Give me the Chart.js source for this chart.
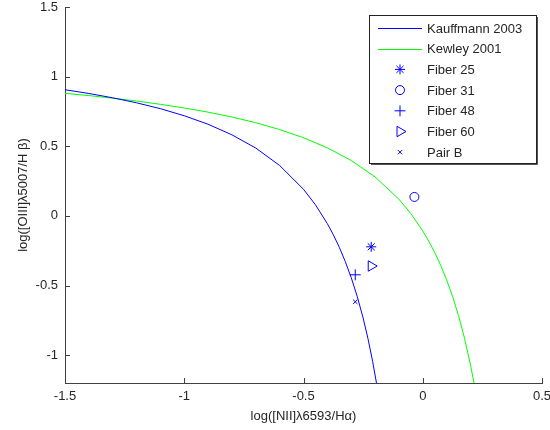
<!DOCTYPE html>
<html>
<head>
<meta charset="utf-8">
<script src="https://cdn.jsdelivr.net/npm/chart.js@4"></script>
<style>
  body { margin: 0; background: #fff; }
  #wrap { width: 550px; height: 430px; }
</style>
</head>
<body>
<div id="wrap"><canvas id="bpt_chart" width="550" height="430"></canvas></div>
<script>
"use strict";
// demarcation curves
var kauffX = [-1.5, -1.4, -1.3, -1.2, -1.1, -1.0, -0.9, -0.8, -0.7, -0.6, -0.5, -0.45, -0.4, -0.375, -0.35, -0.325, -0.3, -0.275, -0.25, -0.23, -0.21, -0.194];
var kauffY = [0.906, 0.879, 0.848, 0.812, 0.770, 0.719, 0.658, 0.582, 0.487, 0.362, 0.191, 0.080, -0.056, -0.135, -0.225, -0.327, -0.443, -0.577, -0.733, -0.879, -1.046, -1.2];
var kewX = [-1.5, -1.4, -1.3, -1.2, -1.1, -1.0, -0.9, -0.8, -0.7, -0.6, -0.5, -0.4, -0.3, -0.2, -0.1, -0.05, 0, 0.025, 0.05, 0.075, 0.1, 0.125, 0.15, 0.175, 0.2, 0.215];
var kewY = [0.880, 0.864, 0.845, 0.825, 0.801, 0.775, 0.745, 0.710, 0.669, 0.620, 0.561, 0.489, 0.398, 0.280, 0.120, 0.017, -0.108, -0.181, -0.262, -0.354, -0.459, -0.578, -0.716, -0.878, -1.069, -1.2];

// measured points
var pointNames = ["Fiber 25", "Fiber 31", "Fiber 48", "Fiber 60", "Pair B"];
var pointX = [-0.216, -0.035, -0.283, -0.216, -0.283];
var pointY = [-0.222, 0.136, -0.423, -0.360, -0.617];

var xTicks = [-1.5, -1, -0.5, 0, 0.5];
var yTicks = [-1, -0.5, 0, 0.5, 1, 1.5];

function pairs(xs, ys) {
  return xs.map(function (x, i) {
    return { x: x, y: ys[i] };
  });
}

var BLUE = "#0000ff";
var GREEN = "#00ff00";
var AXIS = "#404040";
var TEXT = "#262626";
var FONT = "Liberation Sans, Arial, sans-serif";

var markerStyles = [
  { pointStyle: "star", radius: 5, rotation: 0 },
  { pointStyle: "circle", radius: 4.5, rotation: 0 },
  { pointStyle: "cross", radius: 5.5, rotation: 0 },
  { pointStyle: "triangle", radius: 6, rotation: 90 },
  { pointStyle: "crossRot", radius: 3, rotation: 0 },
];

var datasets = [
  {
    label: "Kauffmann 2003",
    data: pairs(kauffX, kauffY),
    showLine: true,
    borderColor: BLUE,
    borderWidth: 1,
    pointRadius: 0,
    tension: 0,
  },
  {
    label: "Kewley 2001",
    data: pairs(kewX, kewY),
    showLine: true,
    borderColor: GREEN,
    borderWidth: 1,
    pointRadius: 0,
    tension: 0,
  },
];
pointNames.forEach(function (name, i) {
  datasets.push({
    label: name,
    data: [{ x: pointX[i], y: pointY[i] }],
    showLine: false,
    borderColor: BLUE,
    backgroundColor: "rgba(0,0,0,0)",
    borderWidth: 1,
    pointStyle: markerStyles[i].pointStyle,
    pointRadius: markerStyles[i].radius,
    pointRotation: markerStyles[i].rotation,
    pointHoverRadius: markerStyles[i].radius,
  });
});

// inward tick marks like matlab
var tickPlugin = {
  id: "inTicks",
  afterDraw: function (chart) {
    var ctx = chart.ctx;
    var area = chart.chartArea;
    var xs = chart.scales.x;
    var ys = chart.scales.y;
    ctx.save();
    ctx.strokeStyle = AXIS;
    ctx.lineWidth = 1;
    ctx.beginPath();
    xTicks.forEach(function (v) {
      var px = Math.round(xs.getPixelForValue(v)) + 0.5;
      ctx.moveTo(px, area.bottom);
      ctx.lineTo(px, area.bottom - 5);
    });
    yTicks.forEach(function (v) {
      var py = Math.round(ys.getPixelForValue(v)) + 0.5;
      ctx.moveTo(area.left, py);
      ctx.lineTo(area.left + 5, py);
    });
    ctx.stroke();
    ctx.restore();
  },
};

// boxed legend in the upper right
var legendPlugin = {
  id: "boxLegend",
  afterDraw: function (chart) {
    var ctx = chart.ctx;
    var left = 369, top = 15, w = 167, h = 148;
    ctx.save();
    ctx.fillStyle = "#fff";
    ctx.fillRect(left, top, w, h);
    ctx.strokeStyle = "#222";
    ctx.lineWidth = 1;
    ctx.strokeRect(left + 0.5, top + 0.5, w, h);
    ctx.strokeStyle = "#555";
    ctx.beginPath();
    ctx.moveTo(left + w + 1.5, top + 2);
    ctx.lineTo(left + w + 1.5, top + h + 1.5);
    ctx.lineTo(left + 2, top + h + 1.5);
    ctx.stroke();

    ctx.font = "13px " + FONT;
    ctx.textBaseline = "middle";
    ctx.textAlign = "left";
    chart.data.datasets.forEach(function (ds, i) {
      var y = 28 + i * 20.7;
      if (ds.showLine) {
        ctx.strokeStyle = ds.borderColor;
        ctx.lineWidth = 1;
        ctx.beginPath();
        ctx.moveTo(378, Math.round(y) + 0.5);
        ctx.lineTo(422, Math.round(y) + 0.5);
        ctx.stroke();
      } else {
        ctx.strokeStyle = ds.borderColor;
        ctx.fillStyle = "rgba(0,0,0,0)";
        Chart.helpers.drawPoint(ctx, {
          pointStyle: ds.pointStyle,
          radius: ds.pointRadius,
          rotation: ds.pointRotation,
          borderWidth: 1,
        }, 400, y);
      }
      ctx.fillStyle = TEXT;
      ctx.fillText(ds.label, 427, y + 1);
    });
    ctx.restore();
  },
};

new Chart("bpt_chart", {
  type: "scatter",
  data: { datasets: datasets },
  options: {
    responsive: false,
    animation: false,
    layout: { padding: { left: 0, right: 0, top: 0, bottom: 0 } },
    plugins: {
      legend: { display: false },
      tooltip: { enabled: false },
    },
    scales: {
      x: {
        type: "linear",
        min: -1.5,
        max: 0.5,
        grid: { display: false, drawTicks: false, tickLength: 0 },
        border: { display: true, color: AXIS, width: 1 },
        afterBuildTicks: function (scale) {
          scale.ticks = xTicks.map(function (v) { return { value: v }; });
        },
        afterFit: function (scale) {
          scale.height = 47;
          scale.paddingLeft = 0;
          scale.paddingRight = 8;
        },
        ticks: {
          color: TEXT,
          font: { family: FONT, size: 13 },
          padding: 6,
          maxRotation: 0,
          callback: function (v) { return String(v); },
        },
        title: {
          display: true,
          text: "log([NII]λ6593/Hα)",
          color: TEXT,
          font: { family: FONT, size: 13 },
          padding: { top: 0, bottom: 6 },
        },
      },
      y: {
        type: "linear",
        min: -1.2,
        max: 1.5,
        grid: { display: false, drawTicks: false, tickLength: 0 },
        border: { display: true, color: AXIS, width: 1 },
        afterBuildTicks: function (scale) {
          scale.ticks = yTicks.map(function (v) { return { value: v }; });
        },
        afterFit: function (scale) {
          scale.width = 65;
          scale.paddingTop = 7;
          scale.paddingBottom = 0;
        },
        ticks: {
          color: TEXT,
          font: { family: FONT, size: 13 },
          padding: 7,
          callback: function (v) { return String(v); },
        },
        title: {
          display: true,
          text: "log([OIII]λ5007/H β)",
          color: TEXT,
          font: { family: FONT, size: 13 },
          padding: { top: 16, bottom: 0 },
        },
      },
    },
  },
  plugins: [tickPlugin, legendPlugin],
});
</script>
</body>
</html>
